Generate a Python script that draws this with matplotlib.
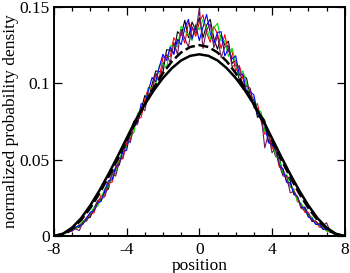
import numpy as np
import matplotlib
matplotlib.use('Agg')
import matplotlib.pyplot as plt
from matplotlib.ticker import MultipleLocator

plt.rcParams['font.family'] = ['Liberation Serif', 'DejaVu Serif']
plt.rcParams['axes.unicode_minus'] = False

# sampled positions of the histograms (step 0.2)
pos = np.linspace(-8, 8, 81)

black_run = [0.0002, 0.0007, 0.0008, 0.0022, 0.0022, 0.0043, 0.0052, 0.0058, 0.0096, 0.0114,
             0.0123, 0.0182, 0.0226, 0.0235, 0.0292, 0.0308, 0.0412, 0.0443, 0.0466, 0.0575,
             0.0585, 0.0671, 0.0752, 0.0742, 0.0827, 0.0920, 0.0893, 0.0993, 0.1081, 0.1077,
             0.1070, 0.1220, 0.1216, 0.1199, 0.1338, 0.1313, 0.1413, 0.1299, 0.1401, 0.1348,
             0.1430, 0.1298, 0.1381, 0.1419, 0.1293, 0.1223, 0.1318, 0.1249, 0.1276, 0.1130,
             0.1150, 0.1017, 0.1051, 0.1033, 0.0913, 0.0890, 0.0777, 0.0792, 0.0757, 0.0621,
             0.0605, 0.0520, 0.0511, 0.0403, 0.0397, 0.0363, 0.0272, 0.0255, 0.0186, 0.0190,
             0.0143, 0.0095, 0.0096, 0.0074, 0.0045, 0.0047, 0.0023, 0.0022, 0.0012, 0.0002,
             0.0001]

red_run = [0.0001, 0.0002, 0.0014, 0.0018, 0.0032, 0.0032, 0.0053, 0.0075, 0.0080, 0.0122,
           0.0143, 0.0152, 0.0214, 0.0267, 0.0267, 0.0348, 0.0352, 0.0438, 0.0511, 0.0505,
           0.0610, 0.0626, 0.0737, 0.0767, 0.0777, 0.0890, 0.0973, 0.0963, 0.1056, 0.1037,
           0.1170, 0.1170, 0.1176, 0.1299, 0.1258, 0.1333, 0.1263, 0.1399, 0.1361, 0.1308,
           0.1400, 0.1448, 0.1331, 0.1269, 0.1373, 0.1323, 0.1228, 0.1319, 0.1206, 0.1210,
           0.1080, 0.1117, 0.1031, 0.0933, 0.0963, 0.0850, 0.0867, 0.0752, 0.0667, 0.0681,
           0.0575, 0.0560, 0.0451, 0.0443, 0.0357, 0.0323, 0.0307, 0.0225, 0.0211, 0.0155,
           0.0153, 0.0105, 0.0098, 0.0058, 0.0057, 0.0033, 0.0032, 0.0018, 0.0007, 0.0007,
           0.0000]

green_run = [0.0003, 0.0005, 0.0015, 0.0014, 0.0028, 0.0045, 0.0044, 0.0070, 0.0099, 0.0102,
             0.0147, 0.0186, 0.0194, 0.0249, 0.0311, 0.0323, 0.0402, 0.0408, 0.0496, 0.0570,
             0.0575, 0.0656, 0.0677, 0.0802, 0.0832, 0.0850, 0.0968, 0.0973, 0.0986, 0.1117,
             0.1130, 0.1100, 0.1246, 0.1249, 0.1238, 0.1373, 0.1343, 0.1319, 0.1281, 0.1388,
             0.1350, 0.1418, 0.1361, 0.1289, 0.1363, 0.1393, 0.1278, 0.1279, 0.1176, 0.1230,
             0.1140, 0.1047, 0.1081, 0.0993, 0.0893, 0.0910, 0.0827, 0.0812, 0.0687, 0.0676,
             0.0635, 0.0525, 0.0501, 0.0408, 0.0402, 0.0323, 0.0302, 0.0225, 0.0216, 0.0172,
             0.0126, 0.0125, 0.0081, 0.0072, 0.0060, 0.0032, 0.0034, 0.0020, 0.0016, 0.0005,
             0.0002]

blue_run = [0.0000, 0.0008, 0.0009, 0.0024, 0.0026, 0.0034, 0.0059, 0.0068, 0.0077, 0.0117,
            0.0156, 0.0165, 0.0216, 0.0227, 0.0299, 0.0363, 0.0367, 0.0453, 0.0476, 0.0555,
            0.0560, 0.0686, 0.0717, 0.0747, 0.0867, 0.0860, 0.0953, 0.1038, 0.1011, 0.1107,
            0.1190, 0.1150, 0.1236, 0.1189, 0.1288, 0.1253, 0.1363, 0.1419, 0.1291, 0.1378,
            0.1280, 0.1368, 0.1451, 0.1329, 0.1263, 0.1333, 0.1338, 0.1179, 0.1226, 0.1160,
            0.1180, 0.1057, 0.1061, 0.0943, 0.0943, 0.0925, 0.0797, 0.0762, 0.0727, 0.0611,
            0.0600, 0.0570, 0.0466, 0.0438, 0.0352, 0.0348, 0.0277, 0.0260, 0.0191, 0.0182,
            0.0123, 0.0115, 0.0076, 0.0076, 0.0046, 0.0043, 0.0035, 0.0014, 0.0014, 0.0004,
            0.0000]

maroon_run = [0.0001, 0.0004, 0.0013, 0.0025, 0.0023, 0.0040, 0.0046, 0.0036, 0.0089, 0.0098,
              0.0142, 0.0160, 0.0231, 0.0245, 0.0257, 0.0338, 0.0407, 0.0393, 0.0486, 0.0520,
              0.0635, 0.0611, 0.0722, 0.0732, 0.0842, 0.0820, 0.0933, 0.0933, 0.1071, 0.1007,
              0.1120, 0.1190, 0.1136, 0.1269, 0.1188, 0.1353, 0.1293, 0.1239, 0.1371, 0.1328,
              0.1490, 0.1228, 0.1351, 0.1389, 0.1233, 0.1313, 0.1168, 0.1239, 0.1246, 0.1110,
              0.1120, 0.1107, 0.0961, 0.0983, 0.0968, 0.0840, 0.0817, 0.0792, 0.0577, 0.0671,
              0.0545, 0.0580, 0.0466, 0.0393, 0.0392, 0.0283, 0.0292, 0.0255, 0.0181, 0.0170,
              0.0148, 0.0100, 0.0091, 0.0078, 0.0068, 0.0087, 0.0029, 0.0025, 0.0008, 0.0008,
              0.0000]

# smooth reference curves (step 0.5)
pos_fit = np.linspace(-8, 8, 33)
solid_fit = [0.0000, 0.0015, 0.0055, 0.0117, 0.0200, 0.0297, 0.0405, 0.0520, 0.0640,
             0.0760, 0.0862, 0.0955, 0.1035, 0.1100, 0.1150, 0.1180, 0.1190,
             0.1180, 0.1150, 0.1100, 0.1035, 0.0955, 0.0862, 0.0760, 0.0640,
             0.0520, 0.0405, 0.0297, 0.0200, 0.0117, 0.0055, 0.0015, 0.0000]
dashed_fit = [0.0000, 0.0012, 0.0048, 0.0105, 0.0183, 0.0278, 0.0386, 0.0503, 0.0625,
              0.0747, 0.0864, 0.0972, 0.1067, 0.1145, 0.1202, 0.1238, 0.1250,
              0.1238, 0.1202, 0.1145, 0.1067, 0.0972, 0.0864, 0.0747, 0.0625,
              0.0503, 0.0386, 0.0278, 0.0183, 0.0105, 0.0048, 0.0012, 0.0000]

fig = plt.figure(figsize=(3.5, 2.73), dpi=100)
ax = fig.add_axes([0.154, 0.1355, 0.831, 0.839])

runs = [(black_run, 'black'), (red_run, 'red'), (green_run, '#00e000'),
        (blue_run, 'blue'), (maroon_run, '#701858')]
for vals, col in runs:
    ax.plot(pos, vals, color=col, lw=0.8)

ax.plot(pos_fit, dashed_fit, color='black', lw=1.8, dashes=(4, 1.5))
ax.plot(pos_fit, solid_fit, color='black', lw=1.8)

ax.set_xlim(-8, 8)
ax.set_ylim(0, 0.15)
ax.set_xticks([-8, -4, 0, 4, 8])
ax.set_xticklabels(['-8', '-4', '0', '4', '8'])
ax.xaxis.set_minor_locator(MultipleLocator(1))
ax.set_yticks([0, 0.05, 0.1, 0.15])
ax.set_yticklabels(['0', '0.05', '0.1', '0.15'])

ax.tick_params(which='both', direction='in', top=True, right=True, labelsize=12.5)
ax.tick_params(which='major', length=5.5, width=0.9)
ax.tick_params(which='minor', length=2.8, width=0.9)
ax.tick_params(axis='x', pad=4.5)
ax.tick_params(axis='y', pad=3)
for s in ax.spines.values():
    s.set_linewidth(1.4)

ax.set_xlabel('position', fontsize=12.5, labelpad=0)
ax.set_ylabel('normalized probability density', fontsize=12.5, labelpad=0)

fig.savefig('out.png', dpi=100)
